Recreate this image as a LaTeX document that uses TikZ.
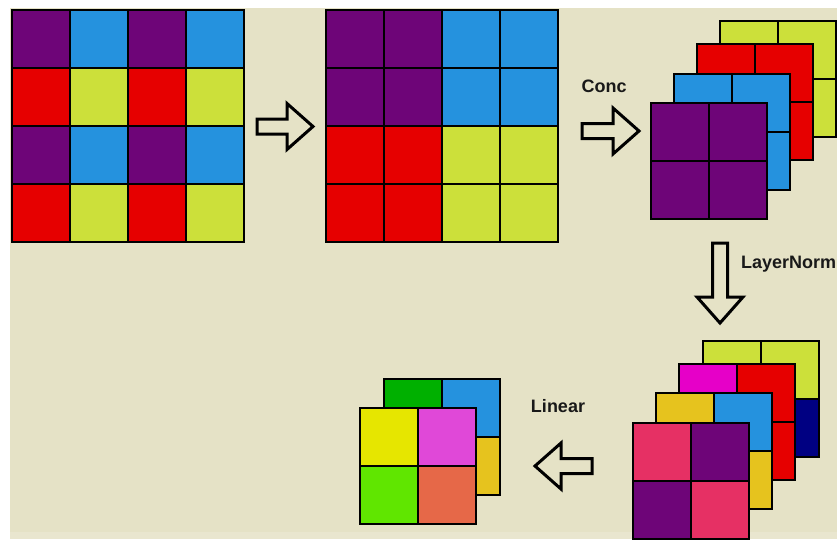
\documentclass[tikz,border=0pt]{standalone}
\usepackage{fontspec}
\setmainfont{Liberation Sans}
\definecolor{bgc}{RGB}{229,226,198}
\definecolor{pur}{RGB}{110,5,120}
\definecolor{blu}{RGB}{37,146,222}
\definecolor{red}{RGB}{230,0,0}
\definecolor{lim}{RGB}{204,224,58}
\definecolor{nav}{RGB}{0,0,130}
\definecolor{mag}{RGB}{230,0,200}
\definecolor{gol}{RGB}{230,195,30}
\definecolor{ros}{RGB}{230,48,100}
\definecolor{grn}{RGB}{0,176,0}
\definecolor{yel}{RGB}{230,230,0}
\definecolor{orc}{RGB}{224,72,216}
\definecolor{lgr}{RGB}{96,230,0}
\definecolor{cor}{RGB}{230,104,72}
\newcommand\sq[3]{\filldraw[fill=#3] (#1,#2) rectangle ++(58,58);}
\newcommand\layer[4]{% top-left, top-right, bottom-left, bottom-right
  \sq{0}{0}{#1}\sq{58}{0}{#2}\sq{0}{58}{#3}\sq{58}{58}{#4}}
\newcommand\barrow[3]{% tail, angle, length
  \begin{scope}[shift={(#1)},rotate=#2]
    \draw[line width=3,fill=bgc,line join=miter]
      (0,-7.5) -- (#3-26,-7.5) -- (#3-26,-23) -- (#3,0)
      -- (#3-26,23) -- (#3-26,7.5) -- (0,7.5) -- cycle;
  \end{scope}}

\begin{document}
\begin{tikzpicture}[x=1pt,y=-1pt,line width=2.2,
    lbl/.style={font=\fontsize{18}{22}\selectfont\bfseries,text=black!90,inner sep=0}]
\useasboundingbox (0,0) rectangle (837,539);
\fill[white] (0,0) rectangle (837,539);
\fill[bgc] (10,8) rectangle (837,539);
\fill[bgc!85!white] (10,532) rectangle (837,539);

% input grid
\foreach \r/\ca/\cb in {0/pur/blu,1/red/lim,2/pur/blu,3/red/lim}
  \foreach \c in {0,2} {\sq{12+\c*58}{10+\r*58}{\ca}\sq{70+\c*58}{10+\r*58}{\cb}}
\barrow{257,126.5}{0}{56}

% regrouped grid
\foreach \r/\ca/\cb in {0/pur/blu,1/pur/blu,2/red/lim,3/red/lim}
  \foreach \c in {0,1} {\sq{326+\c*58}{10+\r*58}{\ca}\sq{442+\c*58}{10+\r*58}{\cb}}

% concatenation
\node[lbl] (conc) at (604,86) {Conc};
\barrow{582,131}{0}{57}
\begin{scope}[shift={(720,21)}]\layer{lim}{lim}{lim}{lim}\end{scope}
\begin{scope}[shift={(697,44)}]\layer{red}{red}{red}{red}\end{scope}
\begin{scope}[shift={(674,74)}]\layer{blu}{blu}{blu}{blu}\end{scope}
\begin{scope}[shift={(651,103)}]\layer{pur}{pur}{pur}{pur}\end{scope}

% layer norm
\barrow{720,243}{-90}{80}
\node[lbl,anchor=west] (norm) at (740,264) {LayerNorm};
\begin{scope}[shift={(703,341)}]\layer{lim}{lim}{nav}{nav}\end{scope}
\begin{scope}[shift={(679,364)}]\layer{mag}{red}{red}{red}\end{scope}
\begin{scope}[shift={(656,393)}]\layer{gol}{blu}{gol}{gol}\end{scope}
\begin{scope}[shift={(633,423)}]\layer{ros}{pur}{pur}{ros}\end{scope}

% linear
\node[lbl] (lin) at (558,406) {Linear};
\barrow{592,466}{180}{57}
\begin{scope}[shift={(384,379)}]\layer{grn}{blu}{gol}{gol}\end{scope}
\begin{scope}[shift={(360,408)}]\layer{yel}{orc}{lgr}{cor}\end{scope}
\end{tikzpicture}
\end{document}
